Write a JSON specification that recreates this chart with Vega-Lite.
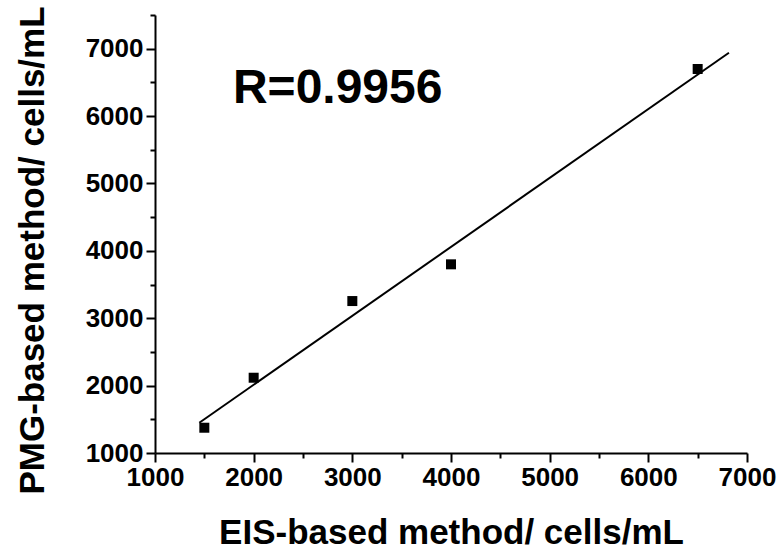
{
  "$schema": "https://vega.github.io/schema/vega-lite/v6.json",
  "width": 592,
  "height": 438,
  "autosize": "none",
  "padding": {"left": 155, "top": 15, "right": 35, "bottom": 98},
  "background": "white",
  "config": {
    "view": {"stroke": null},
    "axis": {
      "domainColor": "black",
      "domainWidth": 2,
      "tickColor": "black",
      "tickWidth": 2,
      "grid": false,
      "labelFont": "Liberation Sans",
      "labelFontWeight": "bold",
      "labelColor": "black",
      "titleFont": "Liberation Sans",
      "titleFontWeight": "bold",
      "titleColor": "black"
    }
  },
  "datasets": {
    "pts": [
      {"eis": 1500, "pmg": 1375},
      {"eis": 2000, "pmg": 2117},
      {"eis": 3000, "pmg": 3255},
      {"eis": 4000, "pmg": 3800},
      {"eis": 6500, "pmg": 6699}
    ],
    "fit": [
      {"eis": 1449, "pmg": 1449},
      {"eis": 6817, "pmg": 6940}
    ],
    "ann": [{"label": "R=0.9956"}]
  },
  "resolve": {"axis": {"x": "independent", "y": "independent"}},
  "layer": [
    {
      "data": {"name": "pts"},
      "mark": {"type": "point", "shape": "square", "filled": true, "color": "black", "size": 100, "opacity": 1},
      "encoding": {
        "x": {
          "field": "eis", "type": "quantitative",
          "scale": {"domain": [1000, 7000], "nice": false, "zero": false},
          "axis": {
            "orient": "bottom",
            "values": [1000, 2000, 3000, 4000, 5000, 6000, 7000],
            "format": "d",
            "tickSize": 9,
            "labelFontSize": 26,
            "labelPadding": 2,
            "labelFlush": false,
            "labelOverlap": false,
            "title": "EIS-based method/ cells/mL",
            "titleFontSize": 35,
            "titleX": 296,
            "titleY": 90,
            "titleBaseline": "alphabetic"
          }
        },
        "y": {
          "field": "pmg", "type": "quantitative",
          "scale": {"domain": [1000, 7500], "nice": false, "zero": false},
          "axis": {
            "orient": "left",
            "values": [1000, 2000, 3000, 4000, 5000, 6000, 7000],
            "format": "d",
            "tickSize": 9,
            "labelFontSize": 26,
            "labelPadding": 3,
            "labelFlush": false,
            "labelOverlap": false,
            "title": "PMG-based method/ cells/mL",
            "titleFontSize": 35,
            "titleAngle": -90,
            "titleX": -112,
            "titleY": 235,
            "titleBaseline": "alphabetic",
            "titleAlign": "center"
          }
        }
      }
    },
    {
      "data": {"name": "fit"},
      "mark": {"type": "line", "color": "black", "strokeWidth": 2},
      "encoding": {
        "x": {
          "field": "eis", "type": "quantitative",
          "scale": {"domain": [1000, 7000], "nice": false, "zero": false},
          "axis": {
            "orient": "bottom",
            "values": [1500, 2500, 3500, 4500, 5500, 6500],
            "tickSize": 5,
            "labels": false,
            "domain": false,
            "title": null
          }
        },
        "y": {
          "field": "pmg", "type": "quantitative",
          "scale": {"domain": [1000, 7500], "nice": false, "zero": false},
          "axis": {
            "orient": "left",
            "values": [1500, 2500, 3500, 4500, 5500, 6500, 7500],
            "tickSize": 5,
            "labels": false,
            "domain": false,
            "title": null
          }
        }
      }
    },
    {
      "data": {"name": "ann"},
      "mark": {"type": "text", "font": "Liberation Sans", "fontWeight": "bold", "fontSize": 48, "align": "left", "baseline": "alphabetic", "color": "black"},
      "encoding": {
        "x": {"datum": 1790, "type": "quantitative", "axis": null},
        "y": {"datum": 6200, "type": "quantitative", "axis": null},
        "text": {"field": "label"}
      }
    }
  ]
}
